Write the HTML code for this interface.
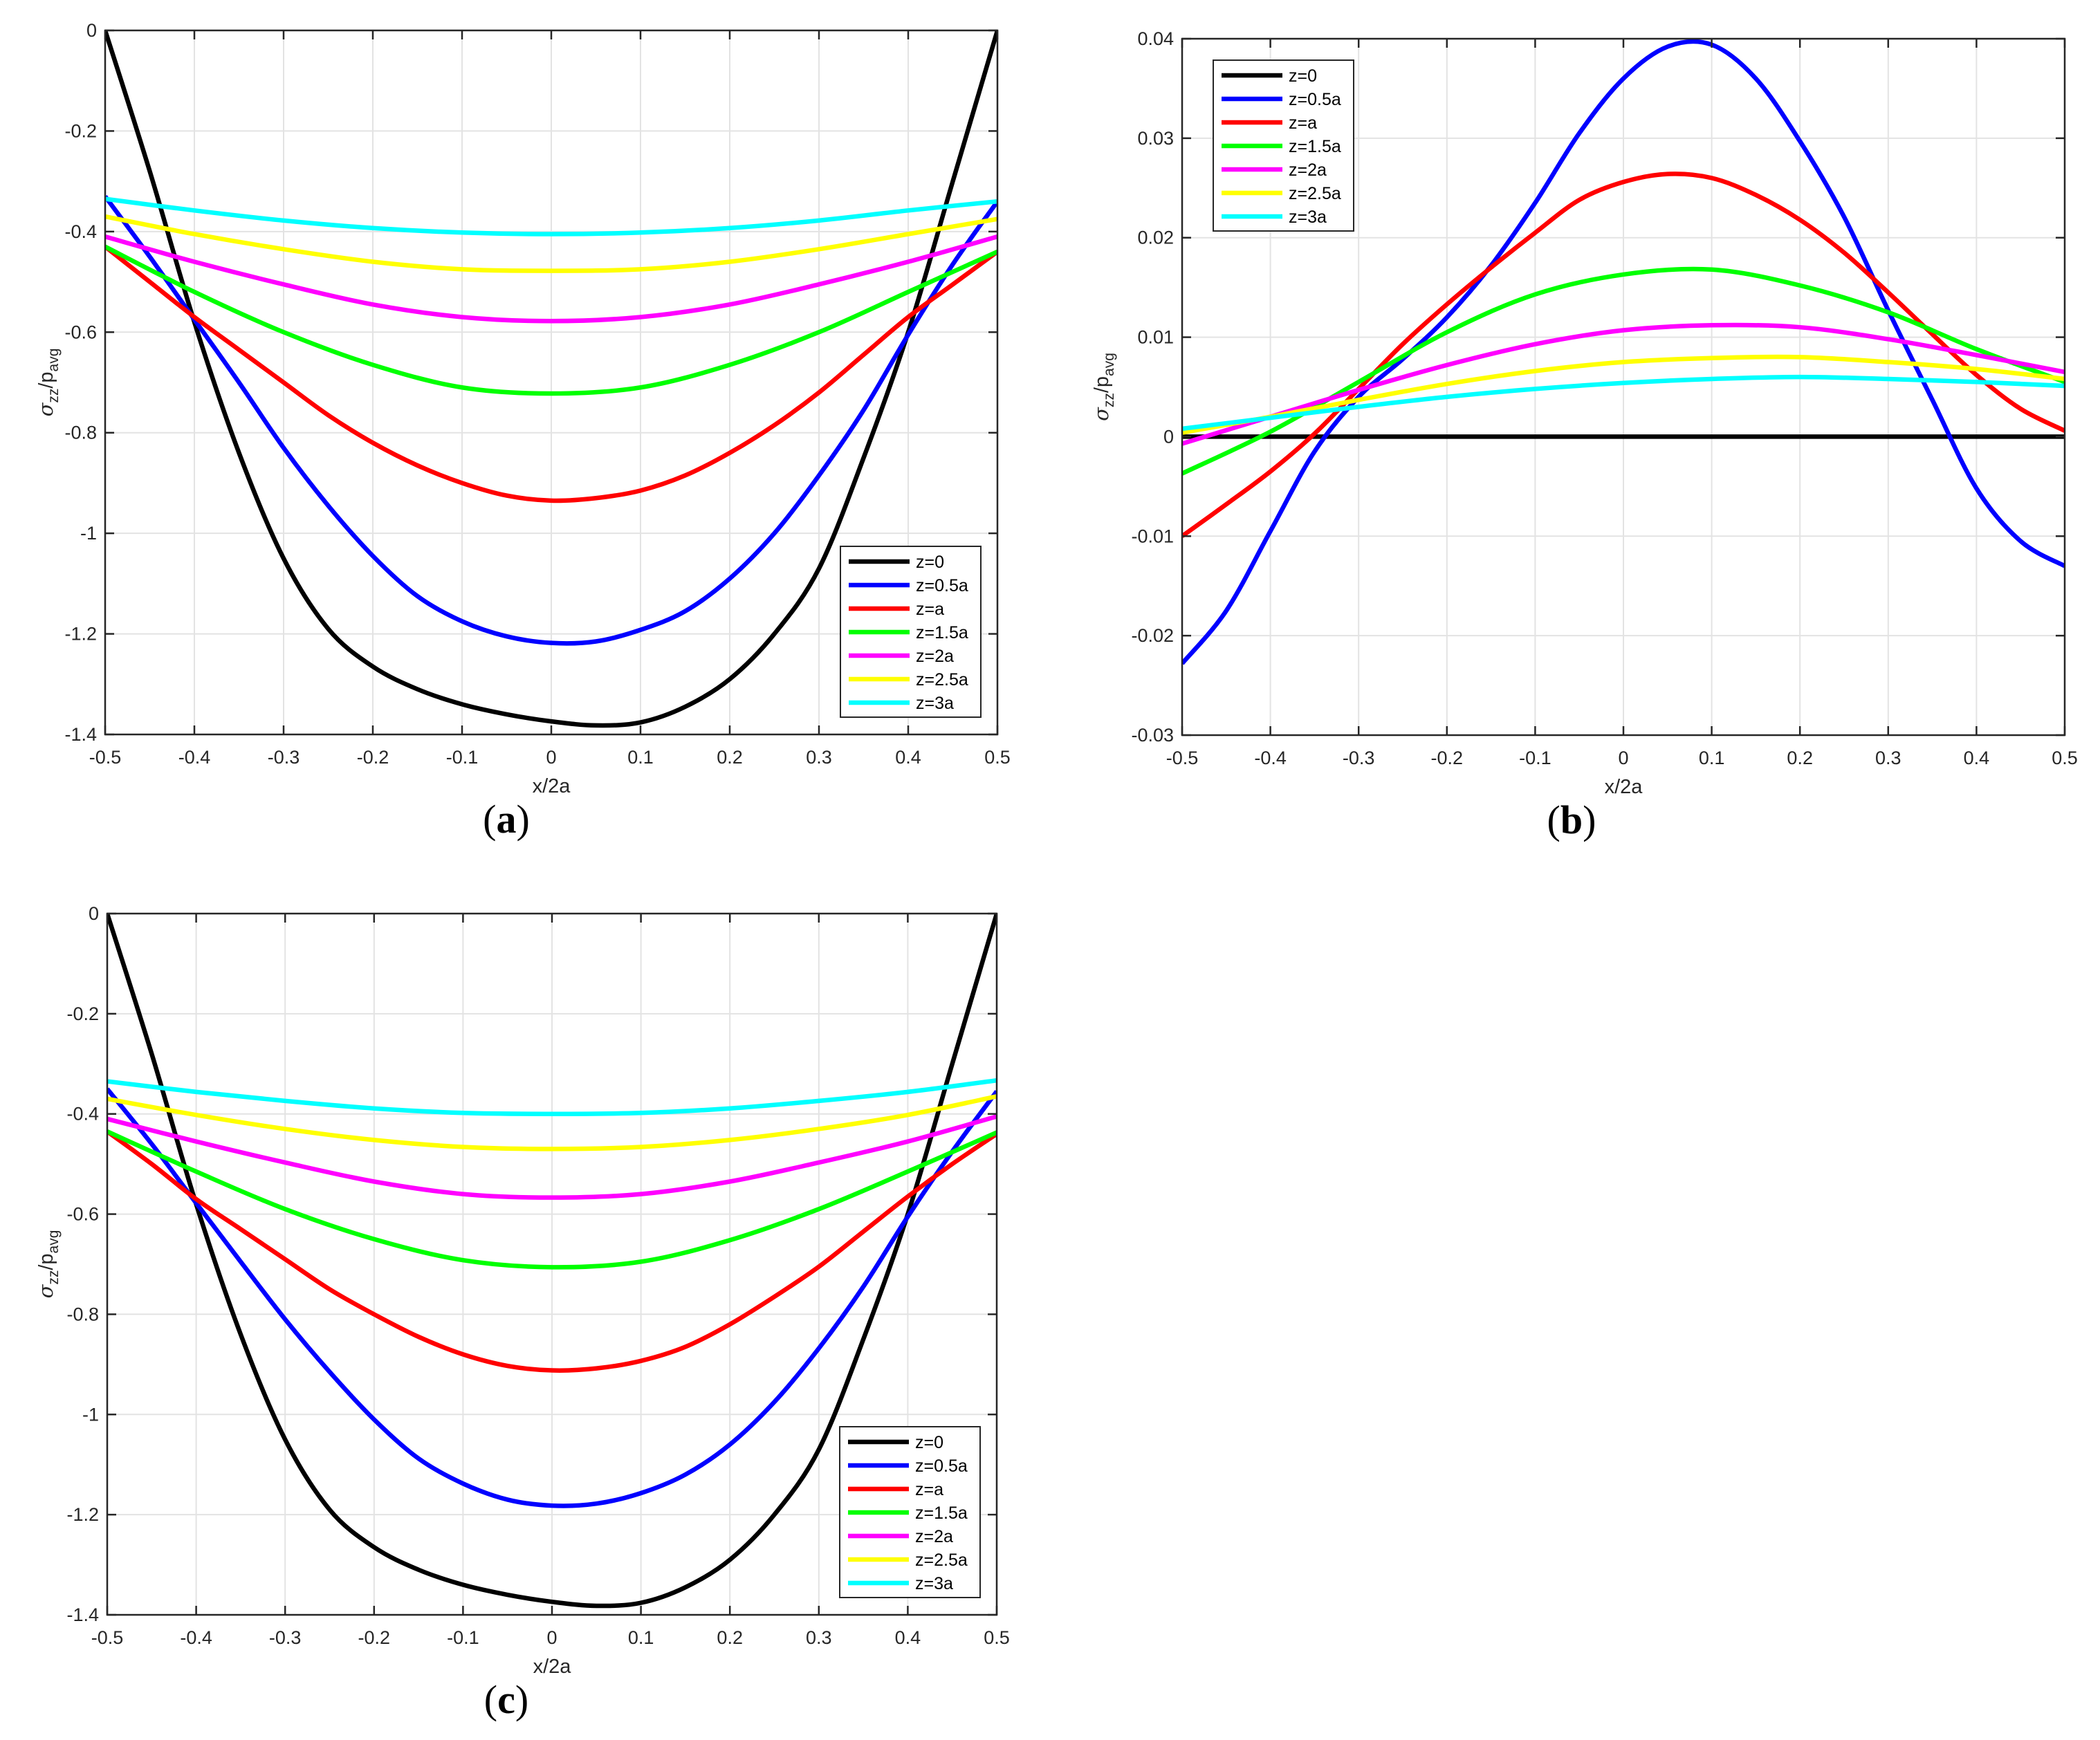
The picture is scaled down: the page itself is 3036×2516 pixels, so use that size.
<!DOCTYPE html>
<html><head><meta charset="utf-8"><style>
html,body{margin:0;padding:0;background:#fff;}
svg{display:block;font-family:"Liberation Sans",sans-serif;}
</style></head><body>
<svg id="fig" width="3036" height="2516" viewBox="0 0 3036 2516" xmlns="http://www.w3.org/2000/svg"></svg>
<script>
// ---------- data ----------
const seriesNames = ["z=0","z=0.5a","z=a","z=1.5a","z=2a","z=2.5a","z=3a"];
const seriesColors = ["#000000","#0000ff","#ff0000","#00ff00","#ff00ff","#ffff00","#00ffff"];
const xFine = [-0.5,-0.45,-0.4,-0.35,-0.3,-0.25,-0.2,-0.15,-0.1,-0.05,0,0.05,0.1,0.15,0.2,0.25,0.3,0.35,0.4,0.45,0.5];
const xCoarse = [-0.5,-0.4,-0.3,-0.2,-0.1,0,0.1,0.2,0.3,0.4,0.5];
const xTicks = [-0.5,-0.4,-0.3,-0.2,-0.1,0,0.1,0.2,0.3,0.4,0.5];
const xTickLabels = ["-0.5","-0.4","-0.3","-0.2","-0.1","0","0.1","0.2","0.3","0.4","0.5"];
const yTicksAC = [0,-0.2,-0.4,-0.6,-0.8,-1,-1.2,-1.4];
const yTickLabelsAC = ["0","-0.2","-0.4","-0.6","-0.8","-1","-1.2","-1.4"];
const yTicksB = [0.04,0.03,0.02,0.01,0,-0.01,-0.02,-0.03];
const yTickLabelsB = ["0.04","0.03","0.02","0.01","0","-0.01","-0.02","-0.03"];

// panel (a)
const aBlack = [0,-0.28,-0.58,-0.84,-1.05,-1.19,-1.265,-1.31,-1.34,-1.36,-1.374,-1.382,-1.376,-1.345,-1.29,-1.2,-1.07,-0.85,-0.6,-0.3,0];
const aBlue = [-0.33,-0.45,-0.575,-0.70,-0.83,-0.945,-1.045,-1.125,-1.175,-1.205,-1.218,-1.215,-1.192,-1.155,-1.09,-1.0,-0.885,-0.755,-0.605,-0.465,-0.34];
const aRed = [-0.43,-0.50,-0.57,-0.635,-0.70,-0.765,-0.82,-0.865,-0.90,-0.925,-0.935,-0.93,-0.915,-0.885,-0.84,-0.785,-0.72,-0.645,-0.57,-0.505,-0.44];
const aGreen = [-0.43,-0.52,-0.60,-0.665,-0.71,-0.722,-0.71,-0.665,-0.60,-0.52,-0.44];
const aMagenta = [-0.41,-0.46,-0.505,-0.545,-0.57,-0.578,-0.57,-0.545,-0.505,-0.46,-0.41];
const aYellow = [-0.37,-0.405,-0.435,-0.46,-0.475,-0.478,-0.475,-0.46,-0.435,-0.405,-0.375];
const aCyan = [-0.335,-0.358,-0.378,-0.393,-0.402,-0.405,-0.402,-0.393,-0.378,-0.358,-0.34];

// panel (b)
const bBlack = [0,0,0,0,0,0,0,0,0,0,0];
const bBlue = [-0.0228,-0.0175,-0.0095,-0.0015,0.004,0.0078,0.012,0.0172,0.0235,0.0305,0.036,0.0392,0.0394,0.036,0.0297,0.0221,0.0127,0.0037,-0.0052,-0.0105,-0.013];
const bRed = [-0.010,-0.0068,-0.0035,0.0003,0.0048,0.0093,0.0133,0.0170,0.0205,0.0238,0.0256,0.0264,0.026,0.0243,0.0218,0.0185,0.0145,0.0103,0.0062,0.0028,0.0006];
const bGreen = [-0.0037,0.0005,0.0055,0.0105,0.0143,0.0163,0.0168,0.0152,0.0125,0.0088,0.0055];
const bMagenta = [-0.0007,0.002,0.0047,0.0072,0.0093,0.0107,0.0112,0.011,0.0098,0.0082,0.0065];
const bYellow = [0.0004,0.002,0.0037,0.0053,0.0066,0.0075,0.0079,0.008,0.0075,0.0068,0.0058];
const bCyan = [0.0008,0.0019,0.003,0.004,0.0048,0.0054,0.0058,0.006,0.0058,0.0055,0.0051];

// panel (c)
const cBlack = [0,-0.28,-0.58,-0.84,-1.05,-1.19,-1.265,-1.31,-1.34,-1.36,-1.374,-1.382,-1.376,-1.345,-1.29,-1.2,-1.07,-0.85,-0.6,-0.3,0];
const cBlue = [-0.35,-0.46,-0.578,-0.695,-0.81,-0.915,-1.01,-1.088,-1.138,-1.17,-1.182,-1.178,-1.157,-1.12,-1.06,-0.975,-0.868,-0.745,-0.605,-0.475,-0.355];
const cRed = [-0.435,-0.50,-0.57,-0.63,-0.69,-0.75,-0.80,-0.845,-0.88,-0.903,-0.912,-0.908,-0.893,-0.865,-0.82,-0.765,-0.705,-0.635,-0.565,-0.50,-0.44];
const cGreen = [-0.435,-0.515,-0.59,-0.65,-0.692,-0.706,-0.695,-0.652,-0.59,-0.515,-0.437];
const cMagenta = [-0.41,-0.455,-0.497,-0.535,-0.56,-0.567,-0.56,-0.535,-0.497,-0.455,-0.405];
const cYellow = [-0.37,-0.402,-0.43,-0.452,-0.466,-0.47,-0.466,-0.452,-0.43,-0.402,-0.365];
const cCyan = [-0.335,-0.356,-0.374,-0.389,-0.398,-0.40,-0.398,-0.389,-0.374,-0.356,-0.333];

// ---------- drawing ----------
const NS = "http://www.w3.org/2000/svg";
const svg = document.getElementById("fig");
function mk(tag, parent){ const e = document.createElementNS(NS, tag); parent.appendChild(e); return e; }
function smoothPath(px, py){
  let d = "M" + px[0].toFixed(2) + "," + py[0].toFixed(2);
  for (let i = 0; i < px.length - 1; i++){
    const x0 = px[Math.max(i-1,0)], y0 = py[Math.max(i-1,0)];
    const x1 = px[i], y1 = py[i], x2 = px[i+1], y2 = py[i+1];
    const x3 = px[Math.min(i+2,px.length-1)], y3 = py[Math.min(i+2,py.length-1)];
    const c1x = x1 + (x2-x0)/6, c1y = y1 + (y2-y0)/6;
    const c2x = x2 - (x3-x1)/6, c2y = y2 - (y3-y1)/6;
    d += " C" + c1x.toFixed(2) + "," + c1y.toFixed(2) + " " + c2x.toFixed(2) + "," + c2y.toFixed(2) + " " + x2.toFixed(2) + "," + y2.toFixed(2);
  }
  return d;
}

function panel(cfg){
  const g = mk("g", svg);
  
  
  const L = cfg.left, R = cfg.right, T = cfg.top, B = cfg.bottom;
  const sx = v => L + (v - cfg.xmin) / (cfg.xmax - cfg.xmin) * (R - L);
  const sy = v => T + (cfg.ymax - v) / (cfg.ymax - cfg.ymin) * (B - T);

  xTicks.forEach(v => {
    const l = mk("line", g);
    
    
    l.setAttribute("x1", sx(v)); l.setAttribute("x2", sx(v)); l.setAttribute("y1", T); l.setAttribute("y2", B);
    l.setAttribute("stroke", "#e3e3e3"); l.setAttribute("stroke-width", "2");
  });
  cfg.yTicks.forEach(v => {
    const l = mk("line", g);
    
    
    l.setAttribute("x1", L); l.setAttribute("x2", R); l.setAttribute("y1", sy(v)); l.setAttribute("y2", sy(v));
    l.setAttribute("stroke", "#e3e3e3"); l.setAttribute("stroke-width", "2");
  });

  const clip = mk("clipPath", g); clip.setAttribute("id", cfg.name + "-clip");
  const cr = mk("rect", clip); cr.setAttribute("x", L); cr.setAttribute("y", T - 4); cr.setAttribute("width", R - L); cr.setAttribute("height", B - T + 8);
  cfg.series.forEach((s, i) => {
    const p = mk("path", g);
    
    
    p.setAttribute("d", smoothPath(s.x.map(sx), s.y.map(sy)));
    p.setAttribute("fill", "none"); p.setAttribute("stroke", seriesColors[i]);
    p.setAttribute("stroke-width", "6.5"); p.setAttribute("stroke-linejoin", "round");
    p.setAttribute("clip-path", "url(#" + cfg.name + "-clip)");
  });

  const box = mk("rect", g);
  
  
  box.setAttribute("x", L); box.setAttribute("y", T); box.setAttribute("width", R - L); box.setAttribute("height", B - T);
  box.setAttribute("fill", "none"); box.setAttribute("stroke", "#262626"); box.setAttribute("stroke-width", "2.5");

  xTicks.forEach((v, i) => {
    [[B, B - 13], [T, T + 13]].forEach(pr => {
      const t = mk("line", g);
      
      
      t.setAttribute("x1", sx(v)); t.setAttribute("x2", sx(v)); t.setAttribute("y1", pr[0]); t.setAttribute("y2", pr[1]);
      t.setAttribute("stroke", "#262626"); t.setAttribute("stroke-width", "2.5");
    });
    const tx = mk("text", g);
    
    
    tx.setAttribute("x", sx(v)); tx.setAttribute("y", B + 42); tx.setAttribute("text-anchor", "middle");
    tx.setAttribute("font-size", "27"); tx.setAttribute("fill", "#262626");
    tx.textContent = xTickLabels[i];
  });
  cfg.yTicks.forEach((v, i) => {
    [[L, L + 13], [R, R - 13]].forEach(pr => {
      const t = mk("line", g);
      
      
      t.setAttribute("x1", pr[0]); t.setAttribute("x2", pr[1]); t.setAttribute("y1", sy(v)); t.setAttribute("y2", sy(v));
      t.setAttribute("stroke", "#262626"); t.setAttribute("stroke-width", "2.5");
    });
    const tx = mk("text", g);
    
    
    tx.setAttribute("x", L - 12); tx.setAttribute("y", sy(v) + 9); tx.setAttribute("text-anchor", "end");
    tx.setAttribute("font-size", "27"); tx.setAttribute("fill", "#262626");
    tx.textContent = cfg.yTickLabels[i];
  });

  const xt = mk("text", g);
  
  
  xt.setAttribute("x", (L + R) / 2); xt.setAttribute("y", B + 84); xt.setAttribute("text-anchor", "middle");
  xt.setAttribute("font-size", "29"); xt.setAttribute("fill", "#262626");
  xt.textContent = "x/2a";

  const yt = mk("text", g);
  
  
  yt.setAttribute("transform", "translate(" + cfg.ylabelX + "," + ((T + B) / 2) + ") rotate(-90)");
  yt.setAttribute("text-anchor", "middle"); yt.setAttribute("font-size", "29"); yt.setAttribute("fill", "#262626");
  yt.innerHTML = '<tspan font-family="DejaVu Serif, serif" font-style="italic">σ</tspan><tspan font-size="21" dy="8">zz</tspan><tspan dy="-8">/p</tspan><tspan font-size="21" dy="8">avg</tspan>';

  const cap = mk("text", g);
  
  
  cap.setAttribute("x", cfg.capX); cap.setAttribute("y", B + 142); cap.setAttribute("text-anchor", "middle");
  cap.setAttribute("font-family", "Liberation Serif, serif"); cap.setAttribute("font-size", "58"); cap.setAttribute("fill", "#000");
  cap.innerHTML = '(<tspan font-weight="bold">' + cfg.letter + '</tspan>)';

  const lg = mk("g", g);
  
  
  const lr = mk("rect", lg);
  
  
  lr.setAttribute("x", cfg.lx); lr.setAttribute("y", cfg.ly); lr.setAttribute("width", 203); lr.setAttribute("height", 247);
  lr.setAttribute("fill", "#fff"); lr.setAttribute("stroke", "#262626"); lr.setAttribute("stroke-width", "2");
  seriesNames.forEach((nm, i) => {
    const e = mk("g", lg);
    
    
    const cy = cfg.ly + 22 + i * 34;
    const ln = mk("line", e);
    ln.setAttribute("x1", cfg.lx + 12); ln.setAttribute("x2", cfg.lx + 100); ln.setAttribute("y1", cy); ln.setAttribute("y2", cy);
    ln.setAttribute("stroke", seriesColors[i]); ln.setAttribute("stroke-width", "6.5");
    const t = mk("text", e);
    t.setAttribute("x", cfg.lx + 109); t.setAttribute("y", cy + 9); t.setAttribute("font-size", "25"); t.setAttribute("fill", "#000");
    t.textContent = nm;
  });
}

panel({name:"panel-a", letter:"a", left:152, right:1442, top:44, bottom:1062, xmin:-0.5, xmax:0.5, ymin:-1.4, ymax:0,
  yTicks:yTicksAC, yTickLabels:yTickLabelsAC, ylabelX:76, capX:732, lx:1215, ly:790,
  series:[{x:xFine,y:aBlack},{x:xFine,y:aBlue},{x:xFine,y:aRed},{x:xCoarse,y:aGreen},{x:xCoarse,y:aMagenta},{x:xCoarse,y:aYellow},{x:xCoarse,y:aCyan}]});
panel({name:"panel-b", letter:"b", left:1709, right:2985, top:56, bottom:1063, xmin:-0.5, xmax:0.5, ymin:-0.03, ymax:0.04,
  yTicks:yTicksB, yTickLabels:yTickLabelsB, ylabelX:1602, capX:2272, lx:1754, ly:87,
  series:[{x:xCoarse,y:bBlack},{x:xFine,y:bBlue},{x:xFine,y:bRed},{x:xCoarse,y:bGreen},{x:xCoarse,y:bMagenta},{x:xCoarse,y:bYellow},{x:xCoarse,y:bCyan}]});
panel({name:"panel-c", letter:"c", left:155, right:1441, top:1321, bottom:2335, xmin:-0.5, xmax:0.5, ymin:-1.4, ymax:0,
  yTicks:yTicksAC, yTickLabels:yTickLabelsAC, ylabelX:76, capX:732, lx:1214, ly:2063,
  series:[{x:xFine,y:cBlack},{x:xFine,y:cBlue},{x:xFine,y:cRed},{x:xCoarse,y:cGreen},{x:xCoarse,y:cMagenta},{x:xCoarse,y:cYellow},{x:xCoarse,y:cCyan}]});
</script>
</body></html>
